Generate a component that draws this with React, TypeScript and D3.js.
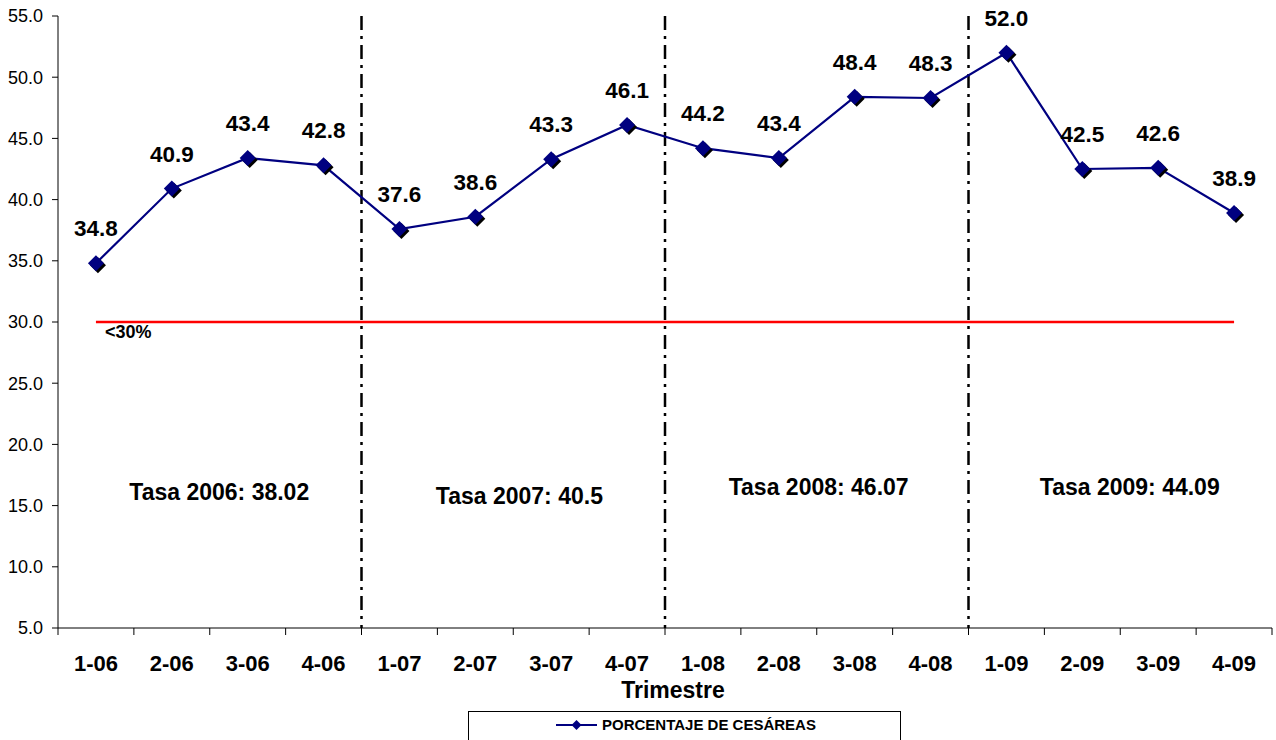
import { useEffect } from 'react';
import * as d3 from 'd3';

const categories = ['1-06', '2-06', '3-06', '4-06', '1-07', '2-07', '3-07', '4-07', '1-08', '2-08', '3-08', '4-08', '1-09', '2-09', '3-09', '4-09'];
const cesareas = [34.8, 40.9, 43.4, 42.8, 37.6, 38.6, 43.3, 46.1, 44.2, 43.4, 48.4, 48.3, 52.0, 42.5, 42.6, 38.9];
const yTicks = [5, 10, 15, 20, 25, 30, 35, 40, 45, 50, 55];
const threshold = 30;
// annotation anchors in data units (category index, percent)
const yearRates = [
  { label: 'Tasa 2006: 38.02', at: 0.94, y: 16.1 },
  { label: 'Tasa 2007: 40.5', at: 4.98, y: 15.8 },
  { label: 'Tasa 2008: 46.07', at: 8.84, y: 16.5 },
  { label: 'Tasa 2009: 44.09', at: 12.94, y: 16.5 },
];
const dividers = [4, 8, 12];

const W = 1276;
const H = 740;
const FONT = '"Liberation Sans", Arial, sans-serif';
const NAVY = '#000080';

export default function App() {
  useEffect(() => {
    document.body.style.margin = '0';
  }, []);

  const left = 58;
  const right = 1272;
  const top = 16;
  const bottom = 628;

  const xBand = d3.scaleBand<string>().domain(categories).range([left, right]);
  const xEdge = d3.scaleLinear().domain([0, categories.length]).range([left, right]);
  const y = d3.scaleLinear().domain([5, 55]).range([bottom, top]);
  const cx = (c: string) => (xBand(c) ?? 0) + xBand.bandwidth() / 2;

  const line = d3.line<number>()
    .x((_, i) => cx(categories[i]))
    .y(d => y(d));

  const diamond = (x: number, yy: number, r: number) =>
    `M${x},${yy - r}L${x + r},${yy}L${x},${yy + r}L${x - r},${yy}Z`;

  const firstX = cx(categories[0]);
  const lastX = cx(categories[categories.length - 1]);

  return (
    <svg width={W} height={H} style={{ display: 'block', background: '#fff' }} fontFamily={FONT}>
      {/* y axis */}
      <line x1={left} x2={left} y1={top} y2={bottom} stroke="#000" strokeWidth={1} />
      {yTicks.map(t => (
        <g key={t}>
          <line x1={left - 6} x2={left} y1={y(t)} y2={y(t)} stroke="#000" />
          <text x={43} y={y(t)} dy="0.35em" textAnchor="end" fontSize={18} fill="#000">{t.toFixed(1)}</text>
        </g>
      ))}
      {/* x axis */}
      <line x1={left} x2={right} y1={bottom} y2={bottom} stroke="#000" />
      {d3.range(categories.length + 1).map(i => (
        <line key={i} x1={xEdge(i)} x2={xEdge(i)} y1={bottom} y2={bottom + 7} stroke="#000" />
      ))}
      {categories.map(c => (
        <text key={c} x={cx(c)} y={671} textAnchor="middle" fontSize={22} fontWeight="bold" fill="#000">{c}</text>
      ))}
      <text x={xEdge(8) + 8} y={698} textAnchor="middle" fontSize={23} fontWeight="bold" fill="#000">Trimestre</text>

      {/* year dividers */}
      {dividers.map(d => (
        <line key={d} x1={xEdge(d)} x2={xEdge(d)} y1={top} y2={bottom} stroke="#000" strokeWidth={2.5} strokeDasharray="14,6,3,6" />
      ))}

      {/* threshold */}
      <line x1={firstX} x2={lastX} y1={y(threshold)} y2={y(threshold)} stroke="#ff0000" strokeWidth={2.5} />
      <text x={firstX + 9} y={y(threshold) + 16} fontSize={18} fontWeight="bold" fill="#000">&lt;30%</text>

      {/* year rates */}
      {yearRates.map(r => (
        <text key={r.label} x={xEdge(r.at)} y={y(r.y)} dy="0.35em" textAnchor="start" fontSize={23} fontWeight="bold" fill="#000">{r.label}</text>
      ))}

      {/* series */}
      <path d={line(cesareas) ?? ''} fill="none" stroke={NAVY} strokeWidth={2.2} />
      {cesareas.map((v, i) => (
        <g key={i}>
          <path d={diamond(cx(categories[i]) + 2, y(v) + 2, 8)} fill="#000" />
          <path d={diamond(cx(categories[i]), y(v), 8)} fill={NAVY} />
          <text x={cx(categories[i])} y={y(v) - 27} textAnchor="middle" fontSize={22.5} fontWeight="bold" fill="#000">{v.toFixed(1)}</text>
        </g>
      ))}

      {/* legend */}
      <rect x={468.5} y={711.5} width={432} height={40} fill="#fff" stroke="#000" strokeWidth={1} />
      <line x1={556} x2={597} y1={725} y2={725} stroke={NAVY} strokeWidth={2.2} />
      <path d={diamond(576.5, 725, 5)} fill={NAVY} />
      <text x={602} y={725} dy="0.35em" fontSize={15} fontWeight="bold" fill="#000">PORCENTAJE DE CESÁREAS</text>
    </svg>
  );
}
